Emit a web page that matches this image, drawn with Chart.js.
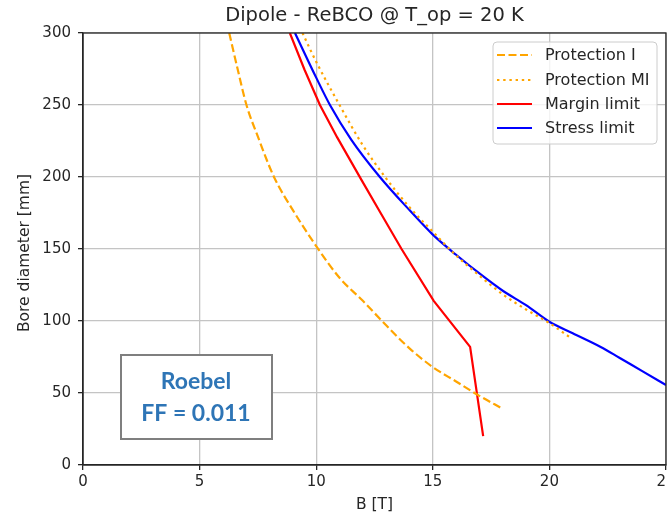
<!DOCTYPE html>
<html>
<head>
<meta charset="utf-8">
<script src="https://cdn.jsdelivr.net/npm/chart.js@4.4.0/dist/chart.umd.min.js"></script>
<style>
  html, body { margin: 0; padding: 0; overflow: hidden; background: #fff; }
  #wrap { width: 667px; height: 516px; overflow: hidden; }
  canvas { display: block; }
</style>
</head>
<body>
<div id="wrap"><canvas id="c" width="690" height="516"></canvas></div>
<script>
// axis ticks
const xTicks = [0, 5, 10, 15, 20, 25];
const yTicks = [0, 50, 100, 150, 200, 250, 300];

// Protection I (dashed)
const protIB = [6.27, 6.6, 7.01, 7.5, 8.19, 9.0, 10.0, 11.0, 12.0, 13.0, 14.0, 15.0, 16.0, 17.0, 18.0];
const protID = [300, 277, 250, 228, 200, 177, 152, 130, 114, 97, 81, 68, 58, 48, 39];

// Protection MI (dotted)
const protMIB = [9.41, 10.0, 11.0, 12.0, 13.0, 14.0, 15.0, 16.0, 17.0, 18.0, 19.0, 20.0, 20.94];
const protMID = [300, 280, 250, 222, 199, 179, 162, 145.5, 131.5, 118.5, 108, 98.5, 88];

// Margin limit
const marginB = [8.87, 9.5, 10.16, 10.9, 11.94, 12.8, 13.66, 15.04, 16.6, 17.16];
const marginD = [300, 274.5, 250, 227.5, 198, 174, 150, 114, 82, 20];

// Stress limit
const stressB = [9.09, 10.0, 10.59, 11.5, 12.73, 14.0, 15.0, 16.0, 17.0, 18.0, 19.0, 20.0, 21.0, 22.2, 23.0, 24.0, 25.0];
const stressD = [300, 269, 250, 226, 200, 177, 160, 146, 133, 121, 111, 99.5, 91.5, 82, 74.5, 65, 55.6];

const TXT = '#262626';
const FONT = 'DejaVu Sans';

const pts = (xs, ys) => xs.map((x, i) => ({ x: x, y: ys[i] }));

const series = [
  { label: 'Protection I', data: pts(protIB, protID), color: '#FFA500', dash: [8, 3.5], smooth: true },
  { label: 'Protection MI', data: pts(protMIB, protMID), color: '#FFA500', dash: [2.4, 3.8], smooth: true },
  { label: 'Margin limit', data: pts(marginB, marginD), color: '#FF0000', dash: [], smooth: false },
  { label: 'Stress limit', data: pts(stressB, stressD), color: '#0000FF', dash: [], smooth: true }
];

const decor = {
  id: 'decor',
  afterDatasetsDraw(chart) {
    const { ctx, chartArea: a } = chart;
    ctx.save();
    ctx.strokeStyle = TXT;
    ctx.lineWidth = 1.3;
    ctx.strokeRect(a.left, a.top, a.right - a.left, a.bottom - a.top);
    ctx.restore();
  },
  afterDraw(chart) {
    const { ctx, chartArea: a } = chart;
    ctx.save();
    // title
    ctx.fillStyle = TXT;
    ctx.font = '19.5px "' + FONT + '"';
    ctx.textAlign = 'center';
    ctx.textBaseline = 'middle';
    ctx.fillText('Dipole - ReBCO @ T_op = 20 K', (a.left + a.right) / 2, 16);

    // axis titles
    ctx.font = '15.5px "' + FONT + '"';
    ctx.fillText('B [T]', (a.left + a.right) / 2, 505);
    ctx.save();
    ctx.translate(25, 253);
    ctx.rotate(-Math.PI / 2);
    ctx.fillText('Bore diameter [mm]', 0, 0);
    ctx.restore();

    // legend
    const lx = 493, ly = 42, lw = 164, lh = 102;
    ctx.beginPath();
    ctx.roundRect(lx, ly, lw, lh, 4);
    ctx.fillStyle = 'rgba(255,255,255,0.8)';
    ctx.fill();
    ctx.strokeStyle = '#cccccc';
    ctx.lineWidth = 1;
    ctx.stroke();
    const rows = [55, 80, 104, 128];
    chart.data.datasets.forEach((ds, i) => {
      const y = rows[i];
      ctx.beginPath();
      ctx.setLineDash(ds.borderDash || []);
      ctx.strokeStyle = ds.borderColor;
      ctx.lineWidth = ds.borderWidth;
      ctx.moveTo(497, y);
      ctx.lineTo(532, y);
      ctx.stroke();
      ctx.setLineDash([]);
      ctx.fillStyle = TXT;
      ctx.font = '16px "' + FONT + '"';
      ctx.textAlign = 'left';
      ctx.textBaseline = 'middle';
      ctx.fillText(ds.label, 545, y + 1);
    });

    // annotation box
    ctx.fillStyle = '#ffffff';
    ctx.fillRect(121, 355, 151, 84);
    ctx.strokeStyle = '#7f7f7f';
    ctx.lineWidth = 2;
    ctx.strokeRect(121, 355, 151, 84);
    ctx.fillStyle = '#2E75B6';
    ctx.font = 'bold 23px Lato';
    ctx.textAlign = 'center';
    ctx.textBaseline = 'middle';
    ctx.fillText('Roebel', 196, 382);
    ctx.fillText('FF = 0.011', 196, 414);
    ctx.restore();
  }
};

new Chart(document.getElementById('c'), {
  type: 'line',
  data: {
    datasets: series.map(s => ({
      label: s.label,
      data: s.data,
      borderColor: s.color,
      backgroundColor: s.color,
      borderDash: s.dash,
      borderCapStyle: 'butt',
      borderWidth: 2.2,
      pointRadius: 0,
      tension: 0,
      cubicInterpolationMode: s.smooth ? 'monotone' : 'default',
      fill: false
    }))
  },
  options: {
    responsive: false,
    animation: false,
    devicePixelRatio: 1,
    layout: { padding: { top: 33, right: 24, left: 0, bottom: 0 } },
    plugins: { legend: { display: false }, title: { display: false }, tooltip: { enabled: false } },
    scales: {
      x: {
        type: 'linear',
        min: 0, max: 25,
        afterBuildTicks: s => { s.ticks = xTicks.map(v => ({ value: v })); },
        afterFit: s => { s.height = 51; },
        grid: { color: '#c4c4c4', lineWidth: 1.3, tickColor: TXT, tickLength: 5 },
        border: { color: TXT, width: 1.3 },
        ticks: { color: TXT, font: { family: FONT, size: 15 }, padding: 3, maxRotation: 0 }
      },
      y: {
        type: 'linear',
        min: 0, max: 300,
        afterBuildTicks: s => { s.ticks = yTicks.map(v => ({ value: v })); },
        afterFit: s => { s.width = 83; },
        grid: { color: '#c4c4c4', lineWidth: 1.3, tickColor: TXT, tickLength: 5 },
        border: { color: TXT, width: 1.3 },
        ticks: { color: TXT, font: { family: FONT, size: 15 }, padding: 7 }
      }
    }
  },
  plugins: [decor]
});
</script>
</body>
</html>
